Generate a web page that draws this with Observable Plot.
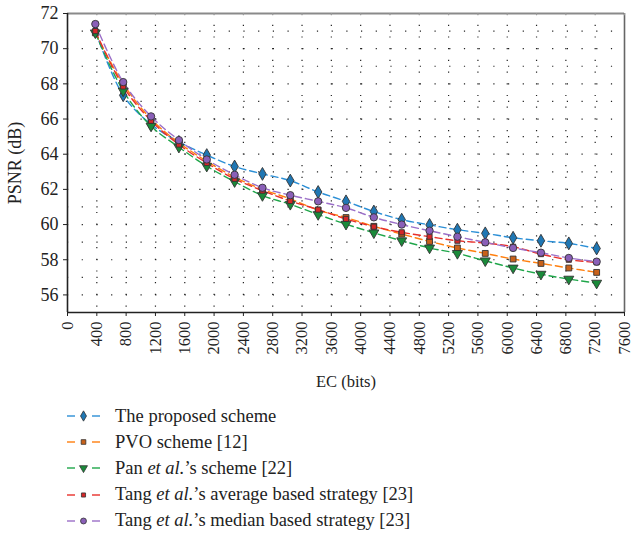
<!DOCTYPE html>
<html>
<head>
<meta charset="utf-8">
<script src="https://cdn.jsdelivr.net/npm/d3@7"></script>
<script src="https://cdn.jsdelivr.net/npm/@observablehq/plot@0.6"></script>
<style>
  html, body { margin: 0; padding: 0; background: #fff; }
  #chart svg { display: block; overflow: visible; }
  .legend { font-family: "Liberation Serif", "DejaVu Serif", serif; font-size: 18.5px; color: #222; margin-top: 3px; }
  .legend .row { display: flex; align-items: center; height: 26.2px; }
  .legend svg { display: block; margin-left: 60px; margin-right: 9px; }
</style>
</head>
<body>
<div id="chart"></div>
<div class="legend" id="legend"></div>
<script>
const ec = [380, 760, 1140, 1520, 1900, 2280, 2660, 3040, 3420, 3800, 4180, 4560, 4940, 5320, 5700, 6080, 6460, 6840, 7220];
const proposed = [71.0, 67.35, 65.7, 64.7, 63.95, 63.3, 62.88, 62.5, 61.85, 61.32, 60.74, 60.28, 59.98, 59.71, 59.5, 59.25, 59.08, 58.93, 58.64];
const pvo = [70.9, 68.0, 66.0, 64.65, 63.6, 62.7, 62.0, 61.46, 60.82, 60.4, 59.9, 59.46, 59.04, 58.67, 58.36, 58.04, 57.79, 57.53, 57.28];
const pan = [70.9, 67.6, 65.6, 64.4, 63.32, 62.44, 61.65, 61.15, 60.57, 60.02, 59.53, 59.08, 58.67, 58.36, 57.94, 57.53, 57.18, 56.9, 56.67];
const tangAvg = [71.0, 67.85, 65.9, 64.55, 63.5, 62.6, 61.93, 61.34, 60.85, 60.32, 59.88, 59.56, 59.31, 59.08, 58.95, 58.74, 58.32, 58.0, 57.85];
const tangMed = [71.4, 68.1, 66.15, 64.8, 63.7, 62.83, 62.09, 61.67, 61.32, 60.95, 60.41, 60.0, 59.65, 59.31, 58.99, 58.67, 58.4, 58.1, 57.89];

const seriesNames = ["The proposed scheme", "PVO scheme [12]", "Pan et al.'s scheme [22]", "Tang et al.'s average based strategy [23]", "Tang et al.'s median based strategy [23]"];
const seriesLabels = ["The proposed scheme", "PVO scheme [12]", "Pan <i>et al.</i>’s scheme [22]", "Tang <i>et al.</i>’s average based strategy [23]", "Tang <i>et al.</i>’s median based strategy [23]"];
const seriesValues = [proposed, pvo, pan, tangAvg, tangMed];
const lineColors = ["#2b8fd6", "#ff7f0e", "#1fa64a", "#e8302a", "#9b6fc8"];
const markColors = ["#1f77b4", "#c8611a", "#1a8a3a", "#d62728", "#8a5fb8"];
const symbols = ["diamond", "square", "triangle", "square", "circle"];
const rotations = [0, 0, 180, 0, 0];
const radii = [3.9, 3.3, 3.7, 2.9, 3.7];

const xTicks = d3.range(0, 7601, 400);
const yTicks = d3.range(56, 73, 2);
const yGrid = d3.range(56, 72, 1);
const xGrid = d3.range(400, 7600, 400);

const seriesData = seriesValues.map((vals, i) => vals.map((v, j) => ({x: ec[j], y: v, s: seriesNames[i]})));

const marks = [
  Plot.ruleY(yGrid, {stroke: "#222", strokeWidth: 1.2, strokeDasharray: "1.2,13.5"}),
  Plot.ruleX(xGrid, {stroke: "#222", strokeWidth: 1.2, strokeDasharray: "1.2,10.5"}),
  Plot.ruleY([72], {stroke: "#8a8a8a", strokeWidth: 2}),
  Plot.ruleX([7600], {stroke: "#666", strokeWidth: 1.6}),
  Plot.ruleX(xTicks, {y1: 72, y2: 71.87, stroke: "#999", strokeWidth: 1}),
  Plot.axisY({ticks: yTicks, tickSize: 4, tickPadding: 5, fontSize: 18, label: "PSNR (dB)", labelAnchor: "center", labelArrow: "none", labelOffset: 59, color: "#222"}),
  Plot.axisX({ticks: xTicks, tickFormat: d3.format("d"), tickSize: 4, tickPadding: 5, tickRotate: -90, fontSize: 16.5, label: "EC (bits)", labelAnchor: "center", labelArrow: "none", labelOffset: 74, color: "#222"}),
  Plot.ruleX([0], {stroke: "#222", strokeWidth: 1.6}),
  Plot.ruleY([55], {stroke: "#222", strokeWidth: 1.6})
];
seriesData.forEach((d, i) => {
  marks.push(Plot.line(d, {x: "x", y: "y", stroke: lineColors[i], strokeWidth: 1.4, strokeDasharray: "7,4", curve: "catmull-rom"}));
});
seriesData.forEach((d, i) => {
  marks.push(Plot.dot(d, {x: "x", y: "y", symbol: symbols[i], r: radii[i], rotate: rotations[i], fill: markColors[i], stroke: "#333", strokeWidth: 0.9}));
});

const chart = Plot.plot({
  width: 633,
  height: 400,
  marginTop: 13,
  marginLeft: 67,
  marginRight: 9,
  marginBottom: 88,
  style: {fontFamily: "'Liberation Serif', 'DejaVu Serif', serif", fontSize: "17px", color: "#222", background: "#fff", overflow: "visible"},
  x: {domain: [0, 7600]},
  y: {domain: [55, 72]},
  marks
});
document.getElementById("chart").appendChild(chart);

// legend
const legend = document.getElementById("legend");
seriesLabels.forEach((lab, i) => {
  const row = document.createElement("div");
  row.className = "row";
  const sym = d3.symbol().type({diamond: d3.symbolDiamond, square: d3.symbolSquare, triangle: d3.symbolTriangle, circle: d3.symbolCircle}[symbols[i]]).size(Math.PI * (radii[i] * 0.8) ** 2)();
  row.innerHTML = `<svg width="46" height="14" viewBox="0 0 46 14">
    <line x1="7" y1="7" x2="15" y2="7" stroke="${lineColors[i]}" stroke-width="1.4"/>
    <line x1="32" y1="7" x2="40" y2="7" stroke="${lineColors[i]}" stroke-width="1.4"/>
    <path d="${sym}" transform="translate(23.5,7) rotate(${rotations[i]})" fill="${markColors[i]}" stroke="#333" stroke-width="0.8"/>
  </svg><span>${lab}</span>`;
  legend.appendChild(row);
});
</script>
</body>
</html>
